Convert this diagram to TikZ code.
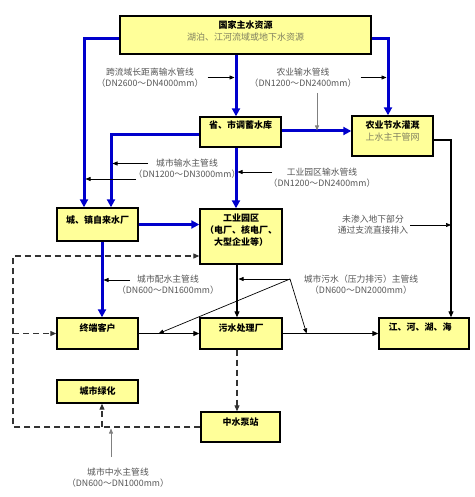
\documentclass[tikz,border=0pt]{standalone}
\usepackage{fontspec}
\setmainfont{Noto Sans CJK SC}
\usepackage{tikz}
\usetikzlibrary{arrows.meta,calc}

\definecolor{boxfill}{RGB}{255,255,153}
\definecolor{pipeblue}{RGB}{0,0,204}
\definecolor{subtext}{RGB}{128,128,96}
\definecolor{notegray}{RGB}{85,85,85}

\tikzset{
  box/.style={draw=black, line width=1.4pt, fill=boxfill, inner sep=0pt},
  boxtext/.style={font=\fontsize{9}{12}\selectfont\bfseries, align=center, inner sep=0pt},
  note/.style={font=\fontsize{8.8}{11}\selectfont, text=notegray, align=center, inner sep=0pt},
  mainpipe/.style={pipeblue, line width=3pt, -{Triangle[length=8pt,width=8pt]}},
  thinpipe/.style={black, line width=1.1pt, -{Triangle[length=6pt,width=5pt]}},
  wastepipe/.style={black!80, line width=1.1pt, dash pattern=on 6pt off 4pt, -{Triangle[length=6pt,width=5pt]}},
  pointer/.style={black, line width=0.7pt, shorten >=1.5pt, -{Triangle[length=5pt,width=4pt]}},
}

\begin{document}
\begin{tikzpicture}[x=1pt, y=-1pt]
    \useasboundingbox (0,0) rectangle (474,497);

    % Draw the boxes
    \node[box, minimum width=251pt, minimum height=38pt] (src) at (245.5,35) {};
    \node[boxtext] (srcT) at (245.5,31) {国家主水资源\\\textcolor{subtext}{\mdseries 湖泊、江河流域或地下水资源}};

    \node[box, minimum width=81pt, minimum height=30pt] (res) at (240.5,132) {};
    \node[boxtext] (resT) at (240.5,125) {省、市调蓄水库};

    \node[box, minimum width=81pt, minimum height=40pt] (agri) at (392.5,136) {};
    \node[boxtext] (agriT) at (392.5,131.5) {农业节水灌溉\\\textcolor{subtext}{\mdseries 上水主干管网}};

    \node[box, minimum width=81pt, minimum height=33pt] (town) at (97.5,224.5) {};
    \node[boxtext] (townT) at (97.5,220) {城、镇自来水厂};

    \node[box, minimum width=82pt, minimum height=55pt] (ind) at (241,236.5) {};
    \node[boxtext] (indT) at (241,230.5) {工业园区\\（电厂、核电厂、\\大型企业等）};

    \node[box, minimum width=81pt, minimum height=31pt] (customer) at (97.5,333.5) {};
    \node[boxtext] (customerT) at (97.5,328) {终端客户};

    \node[box, minimum width=82pt, minimum height=31pt] (sewage) at (241,333.5) {};
    \node[boxtext] (sewageT) at (241,328) {污水处理厂};

    \node[box, minimum width=90pt, minimum height=31pt] (river) at (424,333.5) {};
    \node[boxtext] (riverT) at (420,327) {江、河、湖、海};

    \node[box, minimum width=81pt, minimum height=23pt] (green) at (97.5,391.5) {};
    \node[boxtext] (greenT) at (97.5,391) {城市绿化};

    \node[box, minimum width=79pt, minimum height=30pt] (pump) at (240.5,427) {};
    \node[boxtext] (pumpT) at (240.5,422) {中水泵站};

    % Pipe positions
    \coordinate (leftA) at ([xshift=-13.5pt]town.north);
    \coordinate (leftB) at ([xshift=13.5pt]town.north);
    \coordinate (resIn) at ([xshift=-4.5pt]res.north);
    \coordinate (agriIn) at ([xshift=-4.5pt]agri.north);
    \coordinate (custIn) at ([xshift=4.5pt]customer.north);
    \coordinate (sewIn) at ([xshift=-4pt]sewage.north);
    \coordinate (riverIn) at ([xshift=27pt]river.north);
    \coordinate (dTop) at (13,256);
    \coordinate (dBot) at (13,427);

    % Draw the main water pipes
    \draw[mainpipe] ([yshift=-4pt]src.west) -| (leftA);
    \draw[mainpipe] ([yshift=-4pt]src.east) -| (agriIn);
    \draw[mainpipe] (resIn |- src.south) -- (resIn);
    \draw[mainpipe] ([yshift=1pt]res.east) -- ([yshift=1pt]res.east -| agri.west);
    \draw[mainpipe] ([yshift=-3pt]res.west) -| (leftB);
    \draw[mainpipe] (resIn |- res.south) -- (resIn |- ind.north);
    \draw[mainpipe] (town.east) -- (town.east -| ind.west);
    \draw[mainpipe] (custIn |- town.south) -- (custIn);

    % Draw the sewage pipes
    \draw[thinpipe] (customer.east) -- (sewage.west);
    \draw[thinpipe] (sewage.east) -- (river.west);
    \draw[thinpipe] (sewIn |- ind.south) -- (sewIn);
    \draw[thinpipe] ([yshift=-4pt]agri.east) -| (riverIn);

    % Draw the reclaimed water pipes
    \draw[wastepipe] (pump.west) -- (dBot) -- (dTop) -- (dTop -| ind.west);
    \draw[wastepipe] (dTop |- customer.west) -- (customer.west);
    \draw[wastepipe] (custIn |- dBot) -- (custIn |- green.south);
    \draw[wastepipe] ([xshift=-4pt]sewage.south) -- ([xshift=-4pt]sewage.south |- pump.north);

    % Pipe labels
    \node[note] (n1) at (150,77.5) {跨流域长距离输水管线\\（DN2600～DN4000mm）};
    \draw[pointer] ([xshift=4pt]n1.east) -- (n1.east -| resIn);

    \node[note] (n2) at (303,77.5) {农业输水管线\\（DN1200～DN2400mm）};
    \draw[pointer] ([xshift=4pt]n2.east) -- (n2.east -| agriIn);
    \coordinate (n2v) at (317,93);
    \draw[pointer, color=gray] (n2v) -- (n2v |- res.east);

    \node[note] (n3) at (187,169) {城市输水主管线\\（DN1200～DN3000mm）};
    \coordinate (n3a) at (148,163.5);
    \coordinate (n3b) at (136,179);
    \draw[pointer] (n3a) -- (n3a -| leftB);
    \draw[pointer] (n3b) -- (n3b -| leftA);

    \node[note] (n4) at (322,177.5) {工业园区输水管线\\（DN1200～DN2400mm）};
    \coordinate (n4a) at (272,172);
    \draw[pointer] (n4a) -- (n4a -| resIn);

    \node[note] (n5) at (168,285) {城市配水主管线\\（DN600～DN1600mm）};
    \coordinate (n5a) at (130,280);
    \draw[pointer] (n5a) -- (n5a -| custIn);

    \node[note] (n6) at (361,285) {城市污水（压力排污）主管线\\（DN600～DN2000mm）};
    \coordinate (n6a) at (290,279);
    \draw[pointer] (n6a) -- (n6a -| sewIn);
    \draw[pointer, shorten >=0pt] (n6a) -- ($(customer.east)!0.33!(sewage.west)$);
    \draw[pointer, shorten >=0pt] (n6a) -- ($(sewage.east)!0.25!(river.west)$);

    \node[note] (n8) at (373,225) {未渗入地下部分\\通过支流直接排入};
    \draw[pointer, shorten >=0pt] ([xshift=2pt]n8.east) -- (n8.east -| riverIn);

    \node[note] (n7) at (118,478) {城市中水主管线\\（DN600～DN1000mm）};
    \coordinate (n7a) at (111,457);
    \draw[pointer, color=gray] (n7a) -- (n7a |- dBot);
\end{tikzpicture}
\end{document}
